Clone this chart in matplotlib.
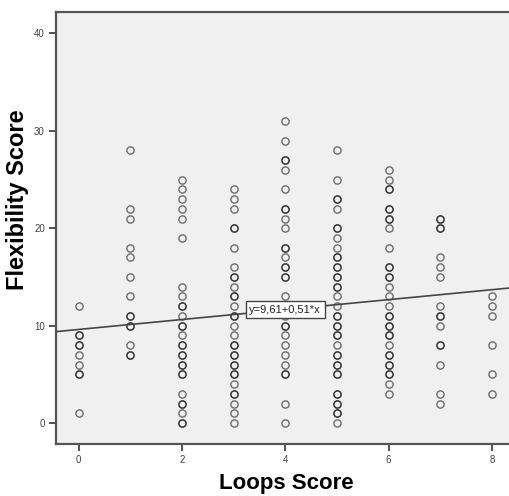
import numpy as np
import matplotlib.pyplot as plt

# Loops score (x) -> flexibility scores (duplicates where circles look darker)
flex_0 = [12, 9, 9, 8, 8, 7, 6, 5, 5, 1]
flex_1 = [28, 22, 21, 18, 17, 15, 13, 11, 11, 10, 10, 8, 7, 7]
flex_2 = [25, 24, 23, 22, 21, 19, 14, 13, 12, 12, 11, 10, 10, 9, 8, 8, 7, 7, 6, 6,
          5, 5, 3, 2, 2, 1, 0, 0]
flex_3 = [24, 23, 22, 20, 20, 18, 16, 15, 15, 14, 13, 13, 12, 11, 11, 10, 9, 8, 8, 7,
          7, 6, 6, 5, 5, 4, 3, 3, 2, 1, 0]
flex_4 = [31, 29, 27, 27, 26, 24, 22, 22, 21, 20, 18, 18, 17, 16, 16, 15, 15, 13, 12,
          11, 10, 10, 9, 8, 7, 6, 5, 5, 2, 0]
flex_5 = [28, 25, 23, 23, 22, 20, 20, 19, 18, 17, 17, 16, 16, 15, 15, 14, 14, 13, 12,
          11, 11, 10, 10, 9, 9, 8, 7, 7, 6, 6, 5, 5, 3, 3, 2, 2, 1, 1, 0]
flex_6 = [26, 25, 24, 24, 22, 22, 21, 21, 20, 18, 16, 16, 15, 15, 14, 13, 12, 11, 11,
          10, 10, 9, 9, 8, 7, 7, 6, 6, 5, 5, 4, 3]
flex_7 = [21, 21, 20, 20, 17, 16, 15, 12, 11, 11, 10, 8, 8, 6, 3, 2]
flex_8 = [13, 12, 11, 8, 5, 3]

loops_scores = [0, 1, 2, 3, 4, 5, 6, 7, 8]
flex_by_loops = [flex_0, flex_1, flex_2, flex_3, flex_4, flex_5, flex_6, flex_7, flex_8]

intercept = 9.61
slope = 0.51
fit_label = 'y=9,61+0,51*x'

x_ticks = [0, 2, 4, 6, 8]
y_ticks = [0, 10, 20, 30, 40]

plt.rcParams['font.family'] = ['Liberation Sans', 'DejaVu Sans']

xs, ys = [], []
for lx, vals in zip(loops_scores, flex_by_loops):
    xs += [lx] * len(vals)
    ys += vals

fig = plt.figure(figsize=(5.1, 4.96), dpi=100)
ax = fig.add_axes([56 / 510, 52 / 496, 1 - 56 / 510, 432 / 496])
ax.set_facecolor('#f0f0f0')

ax.plot(xs, ys, 'o', markersize=5.2, markerfacecolor='none',
        markeredgecolor='black', markeredgewidth=1.0, alpha=0.55, zorder=3)

xlim = (-0.44, 8.35)
ax.set_xlim(*xlim)
ax.set_ylim(-2.15, 42.2)
xx = np.array(xlim)
ax.plot(xx, intercept + slope * xx, color='#454545', linewidth=1.2, zorder=4)

ax.text(4, intercept + slope * 4, fit_label, ha='center', va='center', fontsize=8,
        color='#222222', zorder=5,
        bbox=dict(boxstyle='square,pad=0.3', facecolor='white', edgecolor='#444444', linewidth=1.0))

ax.set_xticks(x_ticks)
ax.set_yticks(y_ticks)
ax.tick_params(direction='out', length=5, width=1.2, color='#333333',
               labelsize=7, labelcolor='#444444', pad=3)

for side in ['left', 'bottom', 'top']:
    ax.spines[side].set_color('#555555')
    ax.spines[side].set_linewidth(1.6)
ax.spines['right'].set_visible(False)

# axis titles placed like the SPSS output
fig.text(286 / 510, 7.5 / 496, 'Loops Score', ha='center', va='baseline',
         fontsize=16, fontweight='bold')
fig.text(17.5 / 510, 1 - 200 / 496, 'Flexibility Score', ha='center', va='center',
         rotation=90, fontsize=17, fontweight='bold')

fig.savefig('out.png', dpi=100)
